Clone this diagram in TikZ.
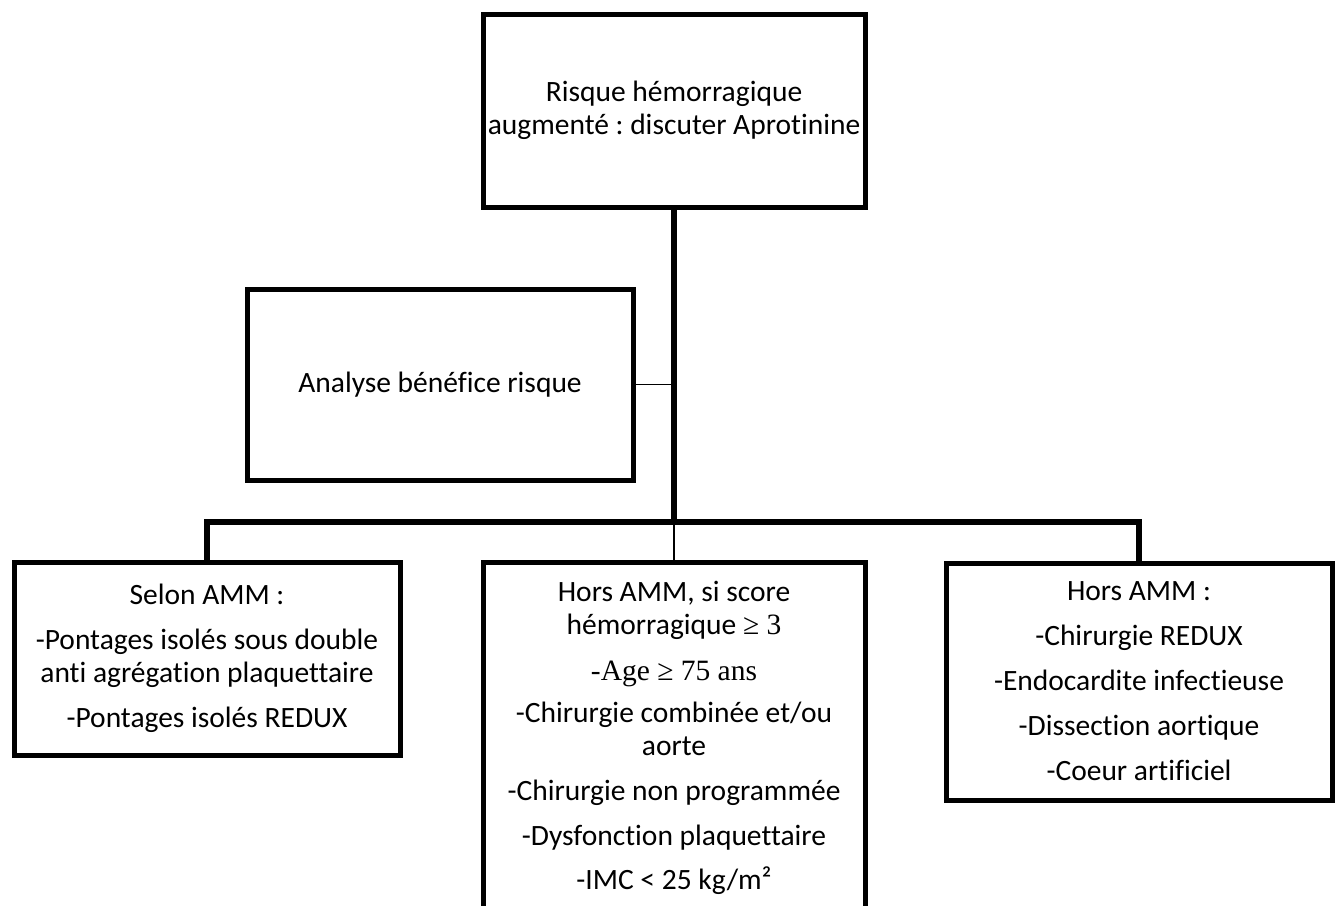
\documentclass[tikz,border=0pt]{standalone}
\usepackage{fontspec}
\setmainfont{Carlito}[Ligatures=NoCommon]
\newfontfamily\tnr{Liberation Serif}
\usetikzlibrary{calc,%
		positioning}
\frenchspacing

\begin{document}
\begin{tikzpicture}[x=1pt,y=-1pt,font=\fontsize{29.5}{33}\selectfont,
	box/.style={draw,line width=5pt,align=center,inner sep=0pt,outer sep=0pt},
	trunk/.style={line width=5.5pt},
	twig/.style={line width=1.6pt}]

\useasboundingbox (0,0) rectangle (1341,905);
\clip (0,0) rectangle (1341,905);

\begin{scope}
\coordinate (bar) at (674,522);

\node[box,minimum width=382pt,minimum height=193pt] (risque) at (674,110.5)
	{Risque hémorragique\\augmenté : discuter Aprotinine};
\node[box,minimum width=386pt,minimum height=191pt] (analyse) at (440,384.5)
	{Analyse bénéfice risque};

\node[box,minimum width=386pt,minimum height=193pt] (selon) at (207,658.5)
	{Selon AMM :\\[12pt]-Pontages isolés sous double\\anti agrégation plaquettaire\\[12pt]-Pontages isolés REDUX};
\node[box,minimum width=382pt,inner ysep=19pt,anchor=north] (horsa) at (674,562)
	{Hors AMM, si score\\hémorragique {\tnr ≥ 3}\\[13pt]{\tnr -Age ≥ 75 ans}\\[9pt]-Chirurgie combinée et/ou\\aorte\\[12pt]-Chirurgie non programmée\\[12pt]-Dysfonction plaquettaire\\[11pt]-IMC < 25 kg/m²};
\node[box,minimum width=386pt,minimum height=237pt] (horsb) at (1139,681.5)
	{Hors AMM :\\[12pt]-Chirurgie REDUX\\[12pt]-Endocardite infectieuse\\[12pt]-Dissection aortique\\[12pt]-Coeur artificiel};

\draw[trunk] (risque.south) -- (bar);
\draw[twig] (analyse.east) -- (analyse.east -| bar);
\draw[trunk] (selon.north) -- (selon.north |- bar) -- (horsb.north |- bar) -- (horsb.north);
\draw[twig] (bar) -- (horsa.north);
\end{scope}

\end{tikzpicture}
\end{document}
